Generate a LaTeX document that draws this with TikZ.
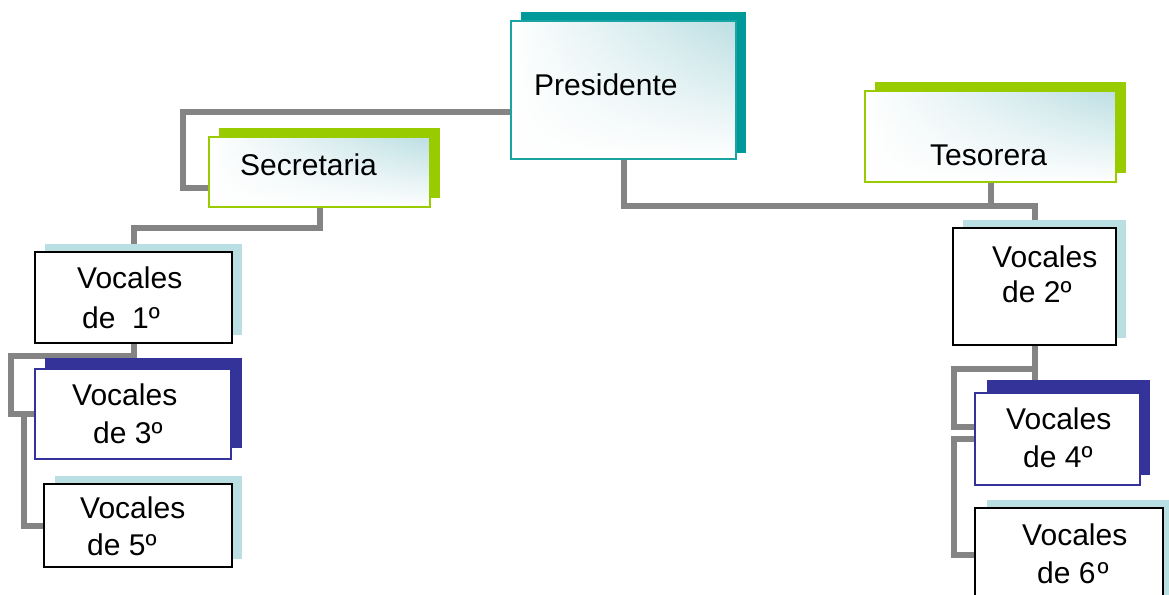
\documentclass[tikz,border=0pt]{standalone}
\usepackage{fontspec}
\setmainfont{Liberation Sans}
\usetikzlibrary{fadings}
\definecolor{tealc}{HTML}{009999}
\definecolor{tealb}{HTML}{1AA3A3}
\definecolor{greenc}{HTML}{99CC00}
\definecolor{navyc}{HTML}{333399}
\definecolor{lbc}{HTML}{B9DFE2}
\definecolor{gradc}{HTML}{BCDFE3}
\definecolor{linec}{HTML}{848484}
\tikzset{
  conn/.style={draw=linec, line width=6pt, line join=miter},
  grad/.style={left color=white, middle color=white!45!gradc, right color=gradc,
    path picture={\fill[white, path fading=north] (path picture bounding box.south west) rectangle (path picture bounding box.north east);}},
  boxbase/.style={rectangle, inner sep=0pt, outer sep=0pt},
  pbox/.style={boxbase, grad, draw=tealb, line width=1.6pt},
  gbox/.style={boxbase, grad, draw=greenc, line width=2pt},
  wbox/.style={boxbase, fill=white, draw=black, line width=1.8pt},
  bbox/.style={boxbase, fill=white, draw=navyc, line width=1.5pt},
  txt/.style={anchor=base west, inner sep=0pt, font=\fontsize{30pt}{36pt}\selectfont},
}
\begin{document}
\begin{tikzpicture}[x=1pt, y=-1pt]
\useasboundingbox (0,0) rectangle (1169,594);
\clip (0,0) rectangle (1169,594);
% box positions (invisible placeholders for connectors)
\path (623.5,90) node[boxbase, minimum width=225pt, minimum height=138pt] (pres) {};
\path (319.5,172) node[boxbase, minimum width=221pt, minimum height=70pt] (secr) {};
\path (990.5,136.5) node[boxbase, minimum width=251pt, minimum height=91pt] (teso) {};
\path (133.5,297.5) node[boxbase, minimum width=197pt, minimum height=91pt] (v1) {};
\path (133,414) node[boxbase, minimum width=196pt, minimum height=90pt] (v3) {};
\path (138,525.5) node[boxbase, minimum width=188pt, minimum height=83pt] (v5) {};
\path (1034.5,286.5) node[boxbase, minimum width=163pt, minimum height=117pt] (v2) {};
\path (1057.5,439) node[boxbase, minimum width=165pt, minimum height=92pt] (v4) {};
\path (1069,555) node[boxbase, minimum width=188pt, minimum height=94pt] (v6) {};
% connectors
\draw[conn] (pres.west |- 0,112) -| (183,188) -- (secr.west |- 0,188);
\draw[conn] (pres.south) |- (v2.north |- 0,206) -- (v2.north);
\draw[conn] (teso.south) -- (teso.south |- 0,206);
\draw[conn] (secr.south) |- (v1.north |- 0,228) -- (v1.north);
\draw[conn] (v1.south) |- (11,356) |- (v3.west);
\draw[conn] (v1.south) -- (v1.south |- v3.west) -- (24,414) |- (v5.west);
\draw[conn] (v2.south) |- (954,369) |- ([yshift=12pt]v4.west);
\draw[conn] (v2.south) -- (v2.south |- v4.west) -| (954,555) -- (v6.west);
% shadows
\fill[tealc] (521,12) rectangle (746,153);
\fill[greenc] (219,128) rectangle (440,198);
\fill[greenc] (875,82) rectangle (1126,173);
\fill[lbc] (45,244) rectangle (242,335);
\fill[navyc] (45,358) rectangle (242,448);
\fill[lbc] (55,476) rectangle (242,559);
\fill[lbc] (963,220) rectangle (1126,338);
\fill[navyc] (987,380) rectangle (1150,475);
\fill[lbc] (987,500) rectangle (1175,600);
% front boxes
\path (623.5,90) node[pbox, minimum width=225pt, minimum height=138pt] (presf) {};
\path (319.5,172) node[gbox, minimum width=221pt, minimum height=70pt] (secrf) {};
\path (990.5,136.5) node[gbox, minimum width=251pt, minimum height=91pt] (tesof) {};
\path (133.5,297.5) node[wbox, minimum width=197pt, minimum height=91pt] (v1f) {};
\path (133,414) node[bbox, minimum width=196pt, minimum height=90pt] (v3f) {};
\path (138,525.5) node[wbox, minimum width=188pt, minimum height=83pt] (v5f) {};
\path (1034.5,286.5) node[wbox, minimum width=163pt, minimum height=117pt] (v2f) {};
\path (1057.5,439) node[bbox, minimum width=165pt, minimum height=92pt] (v4f) {};
\path (1069,555) node[wbox, minimum width=188pt, minimum height=94pt] (v6f) {};
% texts
\node[txt] (tpres) at (534,95) {Presidente};
\node[txt] (tsecr) at (240,175) {Secretaria};
\node[txt] (tteso) at (930,165) {Tesorera};
\node[txt] (t1a) at (77,288) {Vocales};
\node[txt] (t1b) at (82,328) {de\ \ 1º};
\node[txt] (t3a) at (72,405) {Vocales};
\node[txt] (t3b) at (93,443) {de 3º};
\node[txt] (t5a) at (80,518) {Vocales};
\node[txt] (t5b) at (87,555) {de 5º};
\node[txt] (t2a) at (992,267) {Vocales};
\node[txt] (t2b) at (1002,302) {de 2º};
\node[txt] (t4a) at (1006,429) {Vocales};
\node[txt] (t4b) at (1023,467) {de 4º};
\node[txt] (t6a) at (1022,545) {Vocales};
\node[txt] (t6b) at (1037,583) {de 6\kern2ptº};
\end{tikzpicture}
\end{document}
